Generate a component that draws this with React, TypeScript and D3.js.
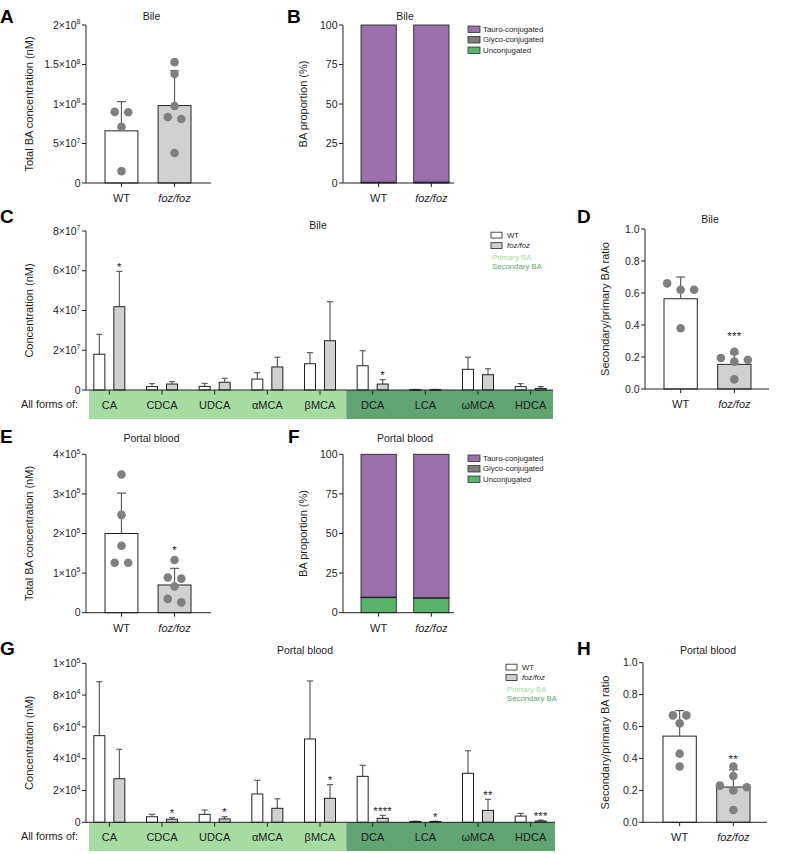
import React from 'react';
import * as d3 from 'd3';

const FONT = '"Liberation Sans", Arial, Helvetica, sans-serif';

// ---------- data ----------
const groups = ['WT', 'foz/foz'];

// A: bile total BA
const bileTotalMean = [6.6e7, 9.8e7];
const bileTotalErrTop = [1.03e8, 1.42e8];
const bileTotalWT = [9.0e7, 8.95e7, 7.1e7, 1.5e7];
const bileTotalFoz = [1.53e8, 1.38e8, 9.75e7, 8.35e7, 8.1e7, 3.8e7];
const totalBileTicks = [0, 5e7, 1e8, 1.5e8, 2e8];

// B: bile proportions
const bileTauro = [99.5, 99.4];
const bileGlyco = [0.3, 0.4];
const bileUnconj = [0.2, 0.2];
const propTicks = [0, 25, 50, 75, 100];
const conjKeys = ['Tauro-conjugated', 'Glyco-conjugated', 'Unconjugated'];

// C: bile per BA species
const baSpecies = ['CA', 'CDCA', 'UDCA', 'αMCA', 'βMCA', 'DCA', 'LCA', 'ωMCA', 'HDCA'];
const primaryBA = ['CA', 'CDCA', 'UDCA', 'αMCA', 'βMCA'];
const bileWTMean = [1.8e7, 1.7e6, 1.8e6, 5.5e6, 1.32e7, 1.22e7, 2e5, 1.04e7, 1.7e6];
const bileWTErrTop = [2.8e7, 3.2e6, 3.3e6, 8.7e6, 1.88e7, 1.98e7, 3e5, 1.65e7, 3.2e6];
const bileFozMean = [4.19e7, 3.0e6, 3.9e6, 1.16e7, 2.48e7, 3.0e6, 2e5, 7.7e6, 0.8e6];
const bileFozErrTop = [5.97e7, 4.2e6, 5.9e6, 1.65e7, 4.44e7, 5.2e6, 3e5, 1.07e7, 1.7e6];
const bileFozStars = ['*', '', '', '', '', '*', '', '', ''];
const bileSpeciesTicks = [0, 2e7, 4e7, 6e7, 8e7];

// D: bile ratio
const bileRatioMean = [0.564, 0.154];
const bileRatioErrTop = [0.70, 0.22];
const bileRatioWT = [0.62, 0.62, 0.66, 0.38];
const bileRatioFoz = [0.233, 0.194, 0.171, 0.183, 0.06];
const ratioTicks = [0, 0.2, 0.4, 0.6, 0.8, 1.0];

// E: portal total BA
const portalTotalMean = [2.0e5, 0.70e5];
const portalTotalErrTop = [3.02e5, 1.12e5];
const portalTotalWT = [3.49e5, 2.47e5, 1.69e5, 1.26e5, 1.26e5];
const portalTotalFoz = [1.33e5, 0.89e5, 0.86e5, 0.66e5, 0.26e5, 0.35e5];
const totalPortalTicks = [0, 1e5, 2e5, 3e5, 4e5];

// F: portal proportions
const portalTauro = [90.1, 90.5];
const portalGlyco = [0.4, 0.4];
const portalUnconj = [9.5, 9.1];

// G: portal per BA species
const portalWTMean = [5.45e4, 3.5e3, 5.0e3, 1.78e4, 5.24e4, 2.89e4, 5e2, 3.08e4, 3.9e3];
const portalWTErrTop = [8.84e4, 5.0e3, 7.7e3, 2.64e4, 8.89e4, 3.58e4, 7e2, 4.5e4, 5.6e3];
const portalFozMean = [2.74e4, 1.9e3, 2.1e3, 8.8e3, 1.51e4, 2.5e3, 5e2, 7.5e3, 8e2];
const portalFozErrTop = [4.59e4, 2.9e3, 3.5e3, 1.48e4, 2.37e4, 4.4e3, 7e2, 1.45e4, 1.4e3];
const portalFozStars = ['', '*', '*', '', '*', '****', '*', '**', '***'];
const portalSpeciesTicks = [0, 2e4, 4e4, 6e4, 8e4, 1e5];

// H: portal ratio
const portalRatioMean = [0.54, 0.221];
const portalRatioErrTop = [0.70, 0.33];
const portalRatioWT = [0.67, 0.67, 0.62, 0.43, 0.35];
const portalRatioFoz = [0.35, 0.29, 0.23, 0.22, 0.20, 0.077];

// ---------- styles ----------
const C_TAURO = '#9a6fab';
const C_GLYCO = '#7d7d7d';
const C_UNCONJ = '#58b468';
const C_PRIMARY = '#a6dba2';
const C_SECONDARY = '#5fa472';
const C_DOT = '#7f7f7f';
const C_FOZ = '#d0d0d0';
const C_ERR = '#5e5e5e';
const TXT = '#1e1e1e';

const FS_TICK = 10.5;
const FS_LABEL = 11;
const FS_TITLE = 10.5;
const FS_CAT = 11;

type Scale = d3.ScaleLinear<number, number>;

function sciParts(v: number): { m: string; e: string | null } {
  if (v === 0) return { m: '0', e: null };
  const e = Math.floor(Math.log10(v) + 1e-9);
  const m = +(v / Math.pow(10, e)).toFixed(2);
  return { m: `${m}×10`, e: String(e) };
}

function YAxis({ x, y, ticks, fmt }: { x: number; y: Scale; ticks: number[]; fmt: 'sci' | 'int' | 'dec' }) {
  const [r0, r1] = y.range();
  return (
    <g>
      <line x1={x} x2={x} y1={r1} y2={r0} stroke="#222" strokeWidth={1} />
      {ticks.map((t) => {
        const ty = y(t);
        let label: React.ReactNode;
        if (fmt === 'sci') {
          const p = sciParts(t);
          label = (
            <>
              {p.m}
              {p.e && (
                <tspan dy={-4.5} fontSize={7}>
                  {p.e}
                </tspan>
              )}
            </>
          );
        } else if (fmt === 'dec') label = d3.format('.1f')(t);
        else label = String(t);
        return (
          <g key={t}>
            <line x1={x - 4} x2={x} y1={ty} y2={ty} stroke="#222" strokeWidth={1} />
            <text x={x - 5.5} y={ty + 3.7} textAnchor="end" fontSize={FS_TICK} fill={TXT}>
              {label}
            </text>
          </g>
        );
      })}
    </g>
  );
}

function YLabel({ cx, cy, text }: { cx: number; cy: number; text: string }) {
  return (
    <text
      transform={`translate(${cx + 4},${cy}) rotate(-90)`}
      textAnchor="middle"
      fontSize={FS_LABEL}
      fill={TXT}
    >
      {text}
    </text>
  );
}

function PanelLetter({ x, y, l }: { x: number; y: number; l: string }) {
  return (
    <text x={x} y={y} fontSize={19} fontWeight="bold" fill="#000">
      {l}
    </text>
  );
}

function GroupLabels({ x, axisY }: { x: d3.ScaleBand<string>; axisY: number }) {
  return (
    <g>
      {groups.map((g) => {
        const cx = (x(g) as number) + x.bandwidth() / 2;
        return (
          <g key={g}>
            <line x1={cx} x2={cx} y1={axisY} y2={axisY + 4} stroke="#222" />
            <text
              x={cx}
              y={axisY + 19}
              textAnchor="middle"
              fontSize={FS_CAT}
              fontStyle={g === 'WT' ? 'normal' : 'italic'}
              fill={TXT}
            >
              {g}
            </text>
          </g>
        );
      })}
    </g>
  );
}

function swarm(vals: number[], y: Scale, thr = 6.5, s = 13.5) {
  const sorted = vals.map((v) => ({ v, py: y(v) })).sort((a, b) => a.v - b.v);
  const rows: { y0: number; items: { v: number; py: number }[] }[] = [];
  for (const d of sorted) {
    const row = rows[rows.length - 1];
    if (row && Math.abs(row.y0 - d.py) < thr) row.items.push(d);
    else rows.push({ y0: d.py, items: [d] });
  }
  const out: { py: number; dx: number }[] = [];
  for (const row of rows) {
    const n = row.items.length;
    row.items.forEach((it, k) => {
      let off: number;
      if (n % 2 === 1) {
        const j = Math.ceil(k / 2);
        off = k === 0 ? 0 : (k % 2 === 1 ? j : -j) * s;
      } else {
        const j = Math.floor(k / 2) + 0.5;
        off = (k % 2 === 0 ? j : -j) * s;
      }
      out.push({ py: it.py, dx: off });
    });
  }
  return out;
}

function DotBarPanel(props: {
  letter: string; letterX: number; letterY: number;
  title: string; titleY: number;
  yLabel: string; yLabelX: number;
  axisX: number; axisEnd: number; yTop: number; yBottom: number;
  barRange: [number, number];
  ticks: number[]; fmt: 'sci' | 'dec';
  means: number[]; errTops: number[]; dots: number[][];
  star: string; starGap: number;
}) {
  const p = props;
  const y = d3.scaleLinear().domain([0, p.ticks[p.ticks.length - 1]]).range([p.yBottom, p.yTop]);
  const x = d3.scaleBand().domain(groups).range(p.barRange).paddingInner(0.38);
  const bw = x.bandwidth();
  let starY = 0;
  return (
    <g>
      <PanelLetter x={p.letterX} y={p.letterY} l={p.letter} />
      <text x={(p.axisX + p.axisEnd) / 2 + 3} y={p.titleY} textAnchor="middle" fontSize={FS_TITLE} fill={TXT}>
        {p.title}
      </text>
      <YLabel cx={p.yLabelX} cy={(p.yTop + p.yBottom) / 2} text={p.yLabel} />
      {groups.map((g, i) => {
        const x0 = x(g) as number;
        const cx = x0 + bw / 2;
        const pts = swarm(p.dots[i], y);
        const topPx = Math.min(y(p.errTops[i]), ...pts.map((d) => d.py));
        if (i === 1) starY = topPx - p.starGap;
        return (
          <g key={g}>
            <rect
              x={x0}
              y={y(p.means[i])}
              width={bw}
              height={p.yBottom - y(p.means[i])}
              fill={i === 0 ? '#fff' : C_FOZ}
              stroke="#222"
              strokeWidth={1}
            />
            <line x1={cx} x2={cx} y1={y(p.means[i])} y2={y(p.errTops[i])} stroke={C_ERR} strokeWidth={1.2} />
            <line x1={cx - 4.5} x2={cx + 4.5} y1={y(p.errTops[i])} y2={y(p.errTops[i])} stroke={C_ERR} strokeWidth={1.2} />
            {pts.map((d, k) => (
              <circle key={k} cx={cx + d.dx} cy={d.py} r={4.3} fill={C_DOT} />
            ))}
          </g>
        );
      })}
      <text
        x={(x('foz/foz') as number) + bw / 2}
        y={starY + 6.5}
        textAnchor="middle"
        fontSize={11.5}
        letterSpacing={0.3}
        fill={TXT}
      >
        {p.star}
      </text>
      <line x1={p.axisX} x2={p.axisEnd} y1={p.yBottom} y2={p.yBottom} stroke="#222" />
      <YAxis x={p.axisX} y={y} ticks={p.ticks} fmt={p.fmt} />
      <GroupLabels x={x} axisY={p.yBottom} />
    </g>
  );
}

function StackPanel(props: {
  letter: string; letterX: number; letterY: number;
  title: string; titleY: number;
  yLabelX: number;
  axisX: number; axisEnd: number; yTop: number; yBottom: number;
  barRange: [number, number];
  tauro: number[]; glyco: number[]; unconj: number[];
  legendX: number; legendY: number;
}) {
  const p = props;
  const y = d3.scaleLinear().domain([0, 100]).range([p.yBottom, p.yTop]);
  const x = d3.scaleBand().domain(groups).range(p.barRange).paddingInner(0.33);
  const rows = groups.map((g, i) => ({
    g,
    Unconjugated: p.unconj[i],
    'Glyco-conjugated': p.glyco[i],
    'Tauro-conjugated': p.tauro[i],
  }));
  const stack = d3.stack<any>().keys(['Unconjugated', 'Glyco-conjugated', 'Tauro-conjugated'])(rows);
  const colors: Record<string, string> = {
    'Tauro-conjugated': C_TAURO,
    'Glyco-conjugated': C_GLYCO,
    Unconjugated: C_UNCONJ,
  };
  return (
    <g>
      <PanelLetter x={p.letterX} y={p.letterY} l={p.letter} />
      <text x={(x('WT') as number + (x('foz/foz') as number) + x.bandwidth()) / 2} y={p.titleY} textAnchor="middle" fontSize={FS_TITLE} fill={TXT}>
        {p.title}
      </text>
      <YLabel cx={p.yLabelX} cy={(p.yTop + p.yBottom) / 2} text="BA proportion (%)" />
      {stack.map((layer) => (
        <g key={layer.key}>
          {layer.map((d, i) => (
            <rect
              key={i}
              x={x(groups[i]) as number}
              y={y(d[1])}
              width={x.bandwidth()}
              height={Math.max(0, y(d[0]) - y(d[1]))}
              fill={colors[layer.key]}
              stroke="#2a2a2a"
              strokeWidth={0.9}
            />
          ))}
        </g>
      ))}
      <line x1={p.axisX} x2={p.axisEnd} y1={p.yBottom} y2={p.yBottom} stroke="#222" />
      <YAxis x={p.axisX} y={y} ticks={propTicks} fmt="int" />
      <GroupLabels x={x} axisY={p.yBottom} />
      {conjKeys.map((k, i) => (
        <g key={k} transform={`translate(${p.legendX},${p.legendY + i * 10.5})`}>
          <rect x={0} y={-3} width={12} height={6.5} fill={colors[k]} stroke="#333" strokeWidth={0.8} />
          <text x={15} y={2.8} fontSize={7.8} fill={TXT}>
            {k}
          </text>
        </g>
      ))}
    </g>
  );
}

function SpeciesPanel(props: {
  letter: string; letterX: number; letterY: number;
  title: string; titleX: number; titleY: number;
  axisX: number; axisEnd: number; yTop: number; yBottom: number; bandBottom: number;
  bandLeft: number; bandRight: number;
  ticks: number[];
  wtMean: number[]; wtTop: number[]; fozMean: number[]; fozTop: number[]; stars: string[];
  legendX: number; legendY: number;
}) {
  const p = props;
  const y = d3.scaleLinear().domain([0, p.ticks[p.ticks.length - 1]]).range([p.yBottom, p.yTop]);
  const x = d3.scaleBand().domain(baSpecies).range([83, 557]);
  const step = x.bandwidth();
  const x1 = d3.scaleBand().domain(groups).range([step / 2 - 15.5, step / 2 + 15.5]).paddingInner(0.45);
  const bw = x1.bandwidth();
  const secStart = x(baSpecies[primaryBA.length]) as number;
  const series = [
    { g: 'WT', mean: p.wtMean, top: p.wtTop, fill: '#fff' },
    { g: 'foz/foz', mean: p.fozMean, top: p.fozTop, fill: C_FOZ },
  ];
  return (
    <g>
      <PanelLetter x={p.letterX} y={p.letterY} l={p.letter} />
      <text x={p.titleX} y={p.titleY} textAnchor="middle" fontSize={FS_TITLE} fill={TXT}>
        {p.title}
      </text>
      <YLabel cx={29} cy={(p.yTop + p.yBottom) / 2} text="Concentration (nM)" />
      <rect x={p.bandLeft} y={p.yBottom} width={secStart - p.bandLeft} height={p.bandBottom - p.yBottom} fill={C_PRIMARY} />
      <rect x={secStart} y={p.yBottom} width={p.bandRight - secStart} height={p.bandBottom - p.yBottom} fill={C_SECONDARY} />
      <text x={78} y={(p.yBottom + p.bandBottom) / 2 + 3.8} textAnchor="end" fontSize={10.8} fill={TXT}>
        All forms of:
      </text>
      {baSpecies.map((s, ci) => {
        const bx = x(s) as number;
        const cx = bx + step / 2;
        return (
          <g key={s}>
            <line x1={cx} x2={cx} y1={p.yBottom} y2={p.yBottom + 4.5} stroke="#222" />
            <text x={cx} y={(p.yBottom + p.bandBottom) / 2 + 4} textAnchor="middle" fontSize={FS_CAT} fill={TXT}>
              {s}
            </text>
            {series.map((se, si) => {
              const x0 = bx + (x1(se.g) as number);
              const mx = x0 + bw / 2;
              const yt = y(se.top[ci]);
              return (
                <g key={se.g}>
                  <line x1={mx} x2={mx} y1={y(se.mean[ci])} y2={yt} stroke={C_ERR} strokeWidth={1.2} />
                  <line x1={mx - 3} x2={mx + 3} y1={yt} y2={yt} stroke={C_ERR} strokeWidth={1.2} />
                  <rect
                    x={x0}
                    y={y(se.mean[ci])}
                    width={bw}
                    height={Math.max(0.8, p.yBottom - y(se.mean[ci]))}
                    fill={se.fill}
                    stroke="#222"
                    strokeWidth={1}
                  />
                  {si === 1 && p.stars[ci] && (
                    <text x={mx} y={yt - 0.5} textAnchor="middle" fontSize={11.5} letterSpacing={0.2} fill={TXT}>
                      {p.stars[ci]}
                    </text>
                  )}
                </g>
              );
            })}
          </g>
        );
      })}
      <line x1={p.axisX} x2={p.axisEnd} y1={p.yBottom} y2={p.yBottom} stroke="#222" />
      <YAxis x={p.axisX} y={y} ticks={p.ticks} fmt="sci" />
      <g transform={`translate(${p.legendX},${p.legendY})`}>
        <rect x={0} y={-2.8} width={11} height={5.8} fill="#fff" stroke="#222" strokeWidth={0.8} />
        <text x={16} y={2.8} fontSize={7.8} fill={TXT}>WT</text>
        <rect x={0} y={7.7} width={11} height={5.8} fill={C_FOZ} stroke="#222" strokeWidth={0.8} />
        <text x={16} y={13.3} fontSize={7.8} fontStyle="italic" fill={TXT}>foz/foz</text>
        <text x={1} y={25} fontSize={7.8} fill={C_PRIMARY}>Primary BA</text>
        <text x={1} y={34} fontSize={7.8} fill={C_SECONDARY}>Secondary BA</text>
      </g>
    </g>
  );
}

export default function App() {
  return (
    <svg
      width={787}
      height={854}
      viewBox="0 0 787 854"
      style={{ position: 'absolute', left: 0, top: 0, background: '#fff' }}
      fontFamily={FONT}
    >
      <rect width={787} height={854} fill="#fff" />
      <DotBarPanel
        letter="A" letterX={0} letterY={23}
        title="Bile" titleY={20}
        yLabel="Total BA concentration (nM)" yLabelX={29}
        axisX={86} axisEnd={211} yTop={25} yBottom={183}
        barRange={[105, 191]} ticks={totalBileTicks} fmt="sci"
        means={bileTotalMean} errTops={bileTotalErrTop} dots={[bileTotalWT, bileTotalFoz]}
        star="" starGap={12}
      />
      <StackPanel
        letter="B" letterX={287} letterY={23}
        title="Bile" titleY={20}
        yLabelX={303}
        axisX={343} axisEnd={454} yTop={25} yBottom={183}
        barRange={[361, 449]}
        tauro={bileTauro} glyco={bileGlyco} unconj={bileUnconj}
        legendX={468} legendY={29}
      />
      <SpeciesPanel
        letter="C" letterX={0} letterY={223}
        title="Bile" titleX={318} titleY={229}
        axisX={86} axisEnd={553} yTop={231} yBottom={390} bandBottom={419}
        bandLeft={89} bandRight={553}
        ticks={bileSpeciesTicks}
        wtMean={bileWTMean} wtTop={bileWTErrTop} fozMean={bileFozMean} fozTop={bileFozErrTop}
        stars={bileFozStars}
        legendX={491} legendY={235}
      />
      <DotBarPanel
        letter="D" letterX={577} letterY={223}
        title="Bile" titleY={223}
        yLabel="Secondary/primary BA ratio" yLabelX={605}
        axisX={645} axisEnd={769} yTop={229} yBottom={389}
        barRange={[664, 751]} ticks={ratioTicks} fmt="dec"
        means={bileRatioMean} errTops={bileRatioErrTop} dots={[bileRatioWT, bileRatioFoz]}
        star="***" starGap={18.5}
      />
      <DotBarPanel
        letter="E" letterX={0} letterY={443}
        title="Portal blood" titleY={442}
        yLabel="Total BA concentration (nM)" yLabelX={29}
        axisX={86} axisEnd={211} yTop={454.3} yBottom={612.7}
        barRange={[105, 191]} ticks={totalPortalTicks} fmt="sci"
        means={portalTotalMean} errTops={portalTotalErrTop} dots={[portalTotalWT, portalTotalFoz]}
        star="*" starGap={12.3}
      />
      <StackPanel
        letter="F" letterX={288} letterY={443}
        title="Portal blood" titleY={442}
        yLabelX={303}
        axisX={343} axisEnd={454} yTop={454.3} yBottom={612.7}
        barRange={[361, 449]}
        tauro={portalTauro} glyco={portalGlyco} unconj={portalUnconj}
        legendX={468} legendY={458}
      />
      <SpeciesPanel
        letter="G" letterX={0} letterY={655}
        title="Portal blood" titleX={305} titleY={654}
        axisX={86} axisEnd={555} yTop={663.3} yBottom={822.3} bandBottom={851}
        bandLeft={89} bandRight={555}
        ticks={portalSpeciesTicks}
        wtMean={portalWTMean} wtTop={portalWTErrTop} fozMean={portalFozMean} fozTop={portalFozErrTop}
        stars={portalFozStars}
        legendX={506} legendY={667}
      />
      <DotBarPanel
        letter="H" letterX={577} letterY={655}
        title="Portal blood" titleY={654}
        yLabel="Secondary/primary BA ratio" yLabelX={605}
        axisX={643} axisEnd={767} yTop={662.7} yBottom={822.3}
        barRange={[663, 750]} ticks={ratioTicks} fmt="dec"
        means={portalRatioMean} errTops={portalRatioErrTop} dots={[portalRatioWT, portalRatioFoz]}
        star="**" starGap={10.3}
      />
    </svg>
  );
}
